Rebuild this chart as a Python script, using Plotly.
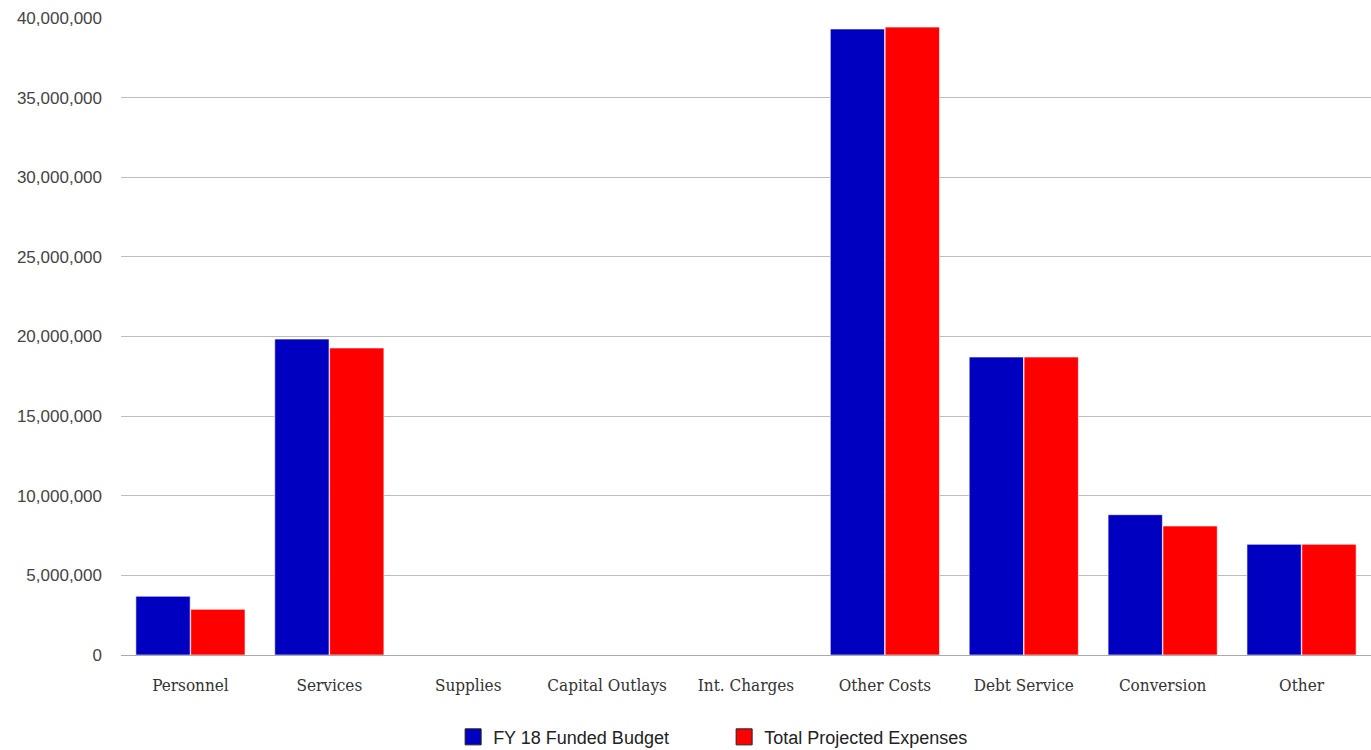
import plotly.graph_objects as go

categories = ["Personnel", "Services", "Supplies", "Capital Outlays", "Int. Charges",
              "Other Costs", "Debt Service", "Conversion", "Other"]
funded_budget = [3690000, 19840000, 0, 0, 0, 39310000, 18710000, 8810000, 6950000]
projected_expenses = [2870000, 19280000, 0, 0, 0, 39430000, 18710000, 8100000, 6950000]

series = [
    ("FY 18 Funded Budget", funded_budget, "#0000c0"),
    ("Total Projected Expenses", projected_expenses, "#ff0000"),
]

fig = go.Figure()
for name, values, color in series:
    fig.add_trace(go.Bar(
        x=categories, y=values, name=name, showlegend=False,
        marker=dict(color=color, line=dict(color="rgba(255,255,255,0.6)", width=1)),
        hoverinfo="x+y",
    ))
# legend entries: larger outlined square swatches
for name, values, color in series:
    fig.add_trace(go.Scatter(
        x=[None], y=[None], name=name, mode="markers",
        marker=dict(symbol="square", size=20, color=color, line=dict(color="#222", width=1)),
    ))

fig.update_layout(
    width=1371, height=750,
    margin=dict(l=121, r=0, t=18, b=95, autoexpand=False),
    paper_bgcolor="white", plot_bgcolor="white",
    barmode="group", bargap=0.21, bargroupgap=0.01,
    font=dict(family="Liberation Sans, Arial", size=13, color="#444"),
    showlegend=True,
    legend=dict(orientation="h", x=0.4825, xanchor="center", y=-0.129, yanchor="middle",
                font=dict(family="Liberation Sans, Arial", size=18, color="#222"),
                itemsizing="trace", entrywidth=226, entrywidthmode="pixels",
                traceorder="normal"),
    xaxis=dict(showgrid=False, ticks="", showline=False, zeroline=False,
               ticklabelstandoff=18,
               tickfont=dict(family="DejaVu Serif Condensed, DejaVu Serif", size=17, color="#333")),
    yaxis=dict(range=[0, 40000000], tickvals=[0, 5000000, 10000000, 15000000, 20000000,
                                             25000000, 30000000, 35000000, 40000000],
               tickformat=",d", showgrid=True, gridcolor="#bdbdbd", gridwidth=1,
               zeroline=True, zerolinecolor="#aaaaaa", zerolinewidth=1,
               showline=False, ticks="", ticklabelstandoff=18,
               tickfont=dict(family="Liberation Sans, Arial", size=17, color="#444")),
)

fig.write_html("out.html")
